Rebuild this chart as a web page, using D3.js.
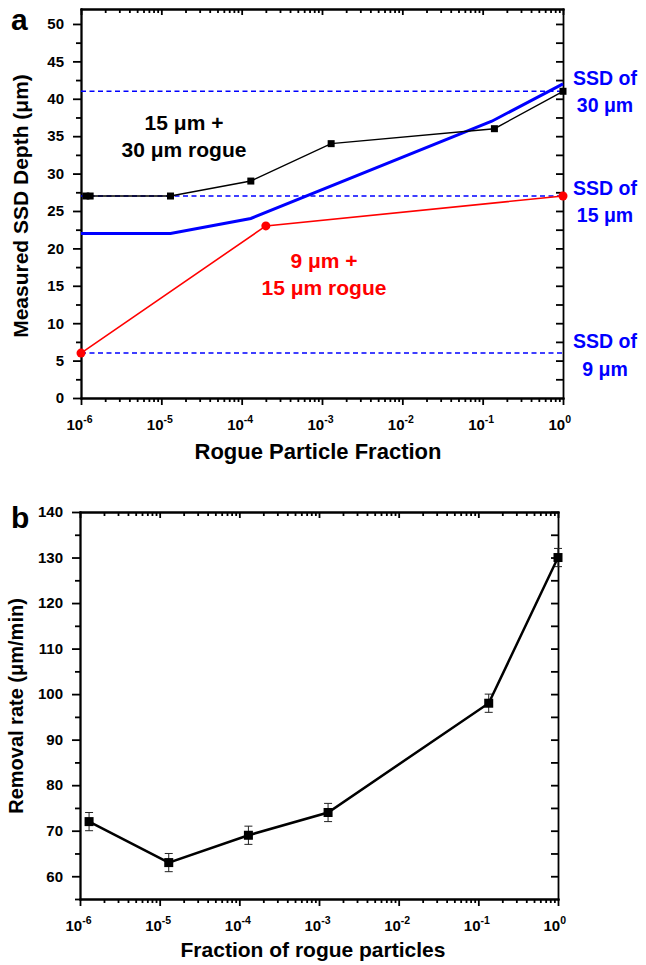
<!DOCTYPE html>
<html>
<head>
<meta charset="utf-8">
<script src="https://cdn.jsdelivr.net/npm/d3@7"></script>
<style>
  body { margin: 0; background: #fff; }
  svg { display: block; }
  .axis path, .axis line { stroke: #000; stroke-width: 1.8; }
  .axis text { font-family: "Liberation Sans", Arial, sans-serif; font-weight: bold; fill: #000; font-size: 15px; }
  .label { font-family: "Liberation Sans", Arial, sans-serif; font-weight: bold; }
</style>
</head>
<body>
<svg></svg>
<script>
// ---- panel a data ----
let fracA15 = [1.15e-6, 1.3e-6, 1.3e-5, 1.3e-4, 1.3e-3, 0.14, 1];
let depthA15 = [27, 27, 27, 29, 34, 36, 41];
let fracA9 = [1e-6, 2e-4, 1];
let depthA9 = [6, 23, 27];
let fracModel = [1e-6, 1.3e-5, 1.3e-4, 0.13, 1];
let depthModel = [22, 22, 24, 37, 42];
let ssdDepth = [41, 27, 6];
let ssdNames = ['30 μm', '15 μm', '9 μm'];

// ---- panel b data ----
let fracB = [1.3e-6, 1.3e-5, 1.3e-4, 1.3e-3, 0.135, 1];
let rateB = [72, 63, 69, 74, 98, 130];
let errB = [2, 2, 2, 2, 2, 2];

// ---- tick values ----
let xExponents = [-6, -5, -4, -3, -2, -1, 0];
let yTicksA = [0, 5, 10, 15, 20, 25, 30, 35, 40, 45, 50];
let yTicksB = [60, 70, 80, 90, 100, 110, 120, 130, 140];

// layout of the two panels
let config = {
  a: { left: 81, right: 563, top: 9, bottom: 398, yDomain: [0, 52], yStep: 5 },
  b: { left: 80, right: 558, top: 512, bottom: 899, yDomain: [55, 140], yStep: 10 }
};

let svg = d3.select('svg');
svg.attr('width', 646);
svg.attr('height', 965);

let xMajor = xExponents.map(e => Math.pow(10, e));
let xMinor = [];
xExponents.slice(0, -1).forEach(function(e) {
  for (let m = 2; m <= 9; m++) xMinor.push(m * Math.pow(10, e));
});

function halfSteps(ticks, step, lo, hi) {
  let out = [];
  ticks.forEach(t => out.push(t + step / 2));
  out.push(ticks[0] - step / 2);
  return out.filter(v => v >= lo && v <= hi);
}

function drawFrame(p, yTicks) {
  p.x = d3.scaleLog().domain([1e-6, 1]).range([p.left, p.right]);
  p.y = d3.scaleLinear().domain(p.yDomain).range([p.bottom, p.top]);

  let g = svg.append('g').attr('class', 'axis');

  // bottom: major ticks with labels, then minor
  let gb = g.append('g').attr('transform', translate(0, p.bottom))
    .call(d3.axisBottom(p.x).tickValues(xMajor).tickSizeInner(7).tickSizeOuter(0)
      .tickFormat(d => Math.round(Math.log10(d))));
  gb.selectAll('.tick text').each(function(d) {
    let t = d3.select(this);
    let e = Math.round(Math.log10(d));
    t.text(null).attr('y', 32).attr('dy', null).attr('x', -15).attr('text-anchor', 'start');
    t.append('tspan').text('10');
    t.append('tspan').attr('dy', -7).style('font-size', '10.5px').text(e);
  });
  g.append('g').attr('transform', translate(0, p.bottom))
    .call(d3.axisBottom(p.x).tickValues(xMinor).tickSizeInner(4).tickSizeOuter(0).tickFormat(''));

  // top mirror, ticks inward
  g.append('g').attr('transform', translate(0, p.top))
    .call(d3.axisTop(p.x).tickValues(xMajor).tickSizeInner(-6).tickSizeOuter(0).tickFormat(''));
  g.append('g').attr('transform', translate(0, p.top))
    .call(d3.axisTop(p.x).tickValues(xMinor).tickSizeInner(-4).tickSizeOuter(0).tickFormat(''));

  // left axis
  g.append('g').attr('transform', translate(p.left, 0))
    .call(d3.axisLeft(p.y).tickValues(yTicks).tickSizeInner(8).tickSizeOuter(0).tickPadding(9));
  let minor = halfSteps(yTicks, p.yStep, p.yDomain[0], p.yDomain[1]);
  g.append('g').attr('transform', translate(p.left, 0))
    .call(d3.axisLeft(p.y).tickValues(minor).tickSizeInner(5).tickSizeOuter(0).tickFormat(''));

  // right mirror, every half step, inward
  let right = yTicks.concat(minor).filter(v => v > p.yDomain[0] && v < yTicks[yTicks.length - 1] + 0.1);
  g.append('g').attr('transform', translate(p.right, 0))
    .call(d3.axisRight(p.y).tickValues(right).tickSizeInner(-7).tickSizeOuter(0).tickFormat(''));

  g.selectAll('path.domain').attr('stroke-linecap', 'square');
  return p;
}

// ================= panel a =================
let pa = drawFrame(config.a, yTicksA);

let plotA = svg.append('g');

// reference SSD depths
plotA.selectAll('line.ssd')
  .data(ssdDepth)
  .enter()
  .append('line')
  .attr('class', 'ssd')
  .attr('x1', pa.left)
  .attr('x2', pa.right)
  .attr('y1', d => pa.y(d))
  .attr('y2', d => pa.y(d))
  .attr('stroke', '#0000ff')
  .attr('stroke-width', 1.5)
  .attr('stroke-dasharray', '5,3.5');

let lineA = d3.line().x(d => pa.x(d[0])).y(d => pa.y(d[1]));

plotA.append('path')
  .attr('d', lineA(d3.zip(fracModel, depthModel)))
  .attr('fill', 'none')
  .attr('stroke', '#0000ff')
  .attr('stroke-width', 3);

plotA.append('path')
  .attr('d', lineA(d3.zip(fracA9, depthA9)))
  .attr('fill', 'none')
  .attr('stroke', '#ff0000')
  .attr('stroke-width', 1.6);

plotA.append('path')
  .attr('d', lineA(d3.zip(fracA15, depthA15)))
  .attr('fill', 'none')
  .attr('stroke', '#000')
  .attr('stroke-width', 1.4);

plotA.selectAll('circle.red')
  .data(d3.zip(fracA9, depthA9))
  .enter()
  .append('circle')
  .attr('class', 'red')
  .attr('cx', d => pa.x(d[0]))
  .attr('cy', d => pa.y(d[1]))
  .attr('r', 4.5)
  .attr('fill', '#ff0000');

plotA.selectAll('rect.sq')
  .data(d3.zip(fracA15, depthA15))
  .enter()
  .append('rect')
  .attr('class', 'sq')
  .attr('x', d => pa.x(d[0]) - 3.5)
  .attr('y', d => pa.y(d[1]) - 3.5)
  .attr('width', 7)
  .attr('height', 7)
  .attr('fill', '#000');

// annotations
let ssdDy = [[-6, 21], [-1, 26], [-5, 23]];
ssdDepth.forEach(function(d, i) {
  let t = svg.append('text')
    .attr('class', 'label')
    .attr('text-anchor', 'middle')
    .style('font-size', '19.5px')
    .attr('fill', '#0000ff');
  t.append('tspan').attr('x', 605).attr('y', pa.y(d) + ssdDy[i][0]).text('SSD of');
  t.append('tspan').attr('x', 605).attr('y', pa.y(d) + ssdDy[i][1]).text(ssdNames[i]);
});

function twoLine(x, y1, y2, l1, l2, color, size) {
  let t = svg.append('text')
    .attr('class', 'label')
    .attr('text-anchor', 'middle')
    .style('font-size', size + 'px')
    .attr('fill', color);
  t.append('tspan').attr('x', x).attr('y', y1).text(l1);
  t.append('tspan').attr('x', x).attr('y', y2).text(l2);
}

twoLine(184, 130, 157, '15 μm +', '30 μm rogue', '#000', 21);
twoLine(324, 268, 295, '9 μm +', '15 μm rogue', '#ff0000', 21);

svg.append('text').attr('class', 'label')
  .attr('x', 11).attr('y', 30)
  .style('font-size', '30px')
  .text('a');

svg.append('text').attr('class', 'label')
  .attr('x', 318).attr('y', 459)
  .attr('text-anchor', 'middle')
  .style('font-size', '22px')
  .text('Rogue Particle Fraction');

svg.append('text').attr('class', 'label')
  .attr('transform', translate(28, 206) + ' rotate(-90)')
  .attr('text-anchor', 'middle')
  .style('font-size', '21px')
  .text('Measured SSD Depth (μm)');

// ================= panel b =================
let pb = drawFrame(config.b, yTicksB);

let plotB = svg.append('g');
let pointsB = d3.zip(fracB, rateB, errB);

let lineB = d3.line().x(d => pb.x(d[0])).y(d => pb.y(d[1]));

// error bars
let bars = plotB.selectAll('g.err')
  .data(pointsB)
  .enter()
  .append('g')
  .attr('class', 'err')
  .attr('stroke', '#222')
  .attr('stroke-width', 1);
bars.append('line')
  .attr('x1', d => pb.x(d[0])).attr('x2', d => pb.x(d[0]))
  .attr('y1', d => pb.y(d[1] - d[2])).attr('y2', d => pb.y(d[1] + d[2]));
bars.append('line')
  .attr('x1', d => pb.x(d[0]) - 4).attr('x2', d => pb.x(d[0]) + 4)
  .attr('y1', d => pb.y(d[1] + d[2])).attr('y2', d => pb.y(d[1] + d[2]));
bars.append('line')
  .attr('x1', d => pb.x(d[0]) - 4).attr('x2', d => pb.x(d[0]) + 4)
  .attr('y1', d => pb.y(d[1] - d[2])).attr('y2', d => pb.y(d[1] - d[2]));

plotB.append('path')
  .attr('d', lineB(pointsB))
  .attr('fill', 'none')
  .attr('stroke', '#000')
  .attr('stroke-width', 2.5);

plotB.selectAll('rect.sq')
  .data(pointsB)
  .enter()
  .append('rect')
  .attr('class', 'sq')
  .attr('x', d => pb.x(d[0]) - 4.5)
  .attr('y', d => pb.y(d[1]) - 4.5)
  .attr('width', 9)
  .attr('height', 9)
  .attr('fill', '#000');

svg.append('text').attr('class', 'label')
  .attr('x', 11).attr('y', 528)
  .style('font-size', '30px')
  .text('b');

svg.append('text').attr('class', 'label')
  .attr('x', 313).attr('y', 957)
  .attr('text-anchor', 'middle')
  .style('font-size', '21px')
  .text('Fraction of rogue particles');

svg.append('text').attr('class', 'label')
  .attr('transform', translate(23, 706) + ' rotate(-90)')
  .attr('text-anchor', 'middle')
  .style('font-size', '20px')
  .text('Removal rate (μm/min)');

// helper method to make translating easier
function translate(x, y) {
  return 'translate(' + x + ',' + y + ')';
}
</script>
</body>
</html>
